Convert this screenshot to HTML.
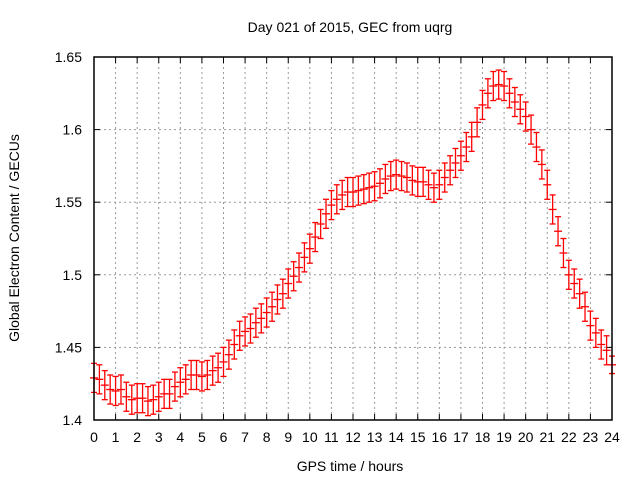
<!DOCTYPE html>
<html><head><meta charset="utf-8"><style>
body{margin:0;background:#fff}
text{font-family:"Liberation Sans",sans-serif;font-size:14px;fill:#000}
</style></head><body>
<svg id="c" width="640" height="480">
<rect width="640" height="480" fill="#fff"/>
<g id="grid"></g><g id="ticks"></g><g id="bars"></g>
<rect x="94" y="57" width="518" height="363" fill="none" stroke="#000" stroke-width="1.5"/>
<text x="350" y="32" text-anchor="middle">Day 021 of 2015, GEC from uqrg</text>
<text x="350" y="471" text-anchor="middle">GPS time / hours</text>
<text transform="translate(19,238) rotate(-90)" text-anchor="middle">Global Electron Content / GECUs</text>
</svg>
<script>
const yTicks=[1.4,1.45,1.5,1.55,1.6,1.65];
const yTickLabels=["1.4","1.45","1.5","1.55","1.6","1.65"];
const xTicks=[0,1,2,3,4,5,6,7,8,9,10,11,12,13,14,15,16,17,18,19,20,21,22,23,24];
const gec=[1.429,1.428,1.424,1.421,1.420,1.421,1.416,1.414,1.415,1.415,1.413,1.414,1.416,1.418,1.418,1.423,1.426,1.428,1.431,1.431,1.430,1.431,1.434,1.436,1.440,1.445,1.452,1.458,1.461,1.463,1.467,1.470,1.474,1.478,1.483,1.487,1.494,1.499,1.505,1.512,1.518,1.526,1.535,1.542,1.548,1.552,1.555,1.557,1.557,1.558,1.559,1.560,1.561,1.563,1.566,1.568,1.569,1.568,1.567,1.565,1.564,1.564,1.562,1.560,1.562,1.567,1.572,1.577,1.582,1.588,1.595,1.605,1.617,1.625,1.630,1.631,1.630,1.625,1.619,1.614,1.609,1.600,1.588,1.576,1.562,1.545,1.530,1.515,1.500,1.494,1.487,1.478,1.465,1.460,1.452,1.448,1.438];
const errs=0.01;
const NS='http://www.w3.org/2000/svg';
const X=h=>94+h*518/24, Y=v=>420-(v-1.4)*363/0.25;
function mk(t,a,p){const e=document.createElementNS(NS,t);for(const k in a)e.setAttribute(k,a[k]);p.appendChild(e);return e;}
const g=document.getElementById('grid'),tk=document.getElementById('ticks'),b=document.getElementById('bars');
yTicks.forEach((v,i)=>{
 if(i>0&&i<yTicks.length-1){const l=mk('line',{x1:94,x2:612,y1:Y(v),y2:Y(v),stroke:'#999','stroke-dasharray':'2,3'},g);
 
 }
 mk('line',{x1:94,x2:100,y1:Y(v),y2:Y(v),stroke:'#000'},tk);
 mk('line',{x1:606,x2:612,y1:Y(v),y2:Y(v),stroke:'#000'},tk);
 const t=mk('text',{x:82,y:Y(v)+5,'text-anchor':'end'},tk);t.textContent=yTickLabels[i];
 
 
});
xTicks.forEach((h,i)=>{
 if(i>0&&i<xTicks.length-1){const l=mk('line',{x1:X(h),x2:X(h),y1:57,y2:420,stroke:'#999','stroke-dasharray':'2,3'},g);
 
 }
 mk('line',{x1:X(h),x2:X(h),y1:414,y2:420,stroke:'#000'},tk);
 mk('line',{x1:X(h),x2:X(h),y1:57,y2:63,stroke:'#000'},tk);
 const t=mk('text',{x:X(h),y:442,'text-anchor':'middle'},tk);t.textContent=String(h);
 
 
});
gec.forEach((v,i)=>{
 const x=X(i*0.25),e=(i==gec.length-1)?0.006:errs;
 const gr=mk('g',{stroke:'#f00','stroke-width':1.3},b);
 
 
 mk('line',{x1:x,x2:x,y1:Y(v+e),y2:Y(v-e)},gr);
 mk('line',{x1:x-3,x2:x+3,y1:Y(v+e),y2:Y(v+e)},gr);
 mk('line',{x1:x-3,x2:x+3,y1:Y(v-e),y2:Y(v-e)},gr);
 mk('line',{x1:x-4,x2:x+4,y1:Y(v),y2:Y(v)},gr);
});
</script>
</body></html>
